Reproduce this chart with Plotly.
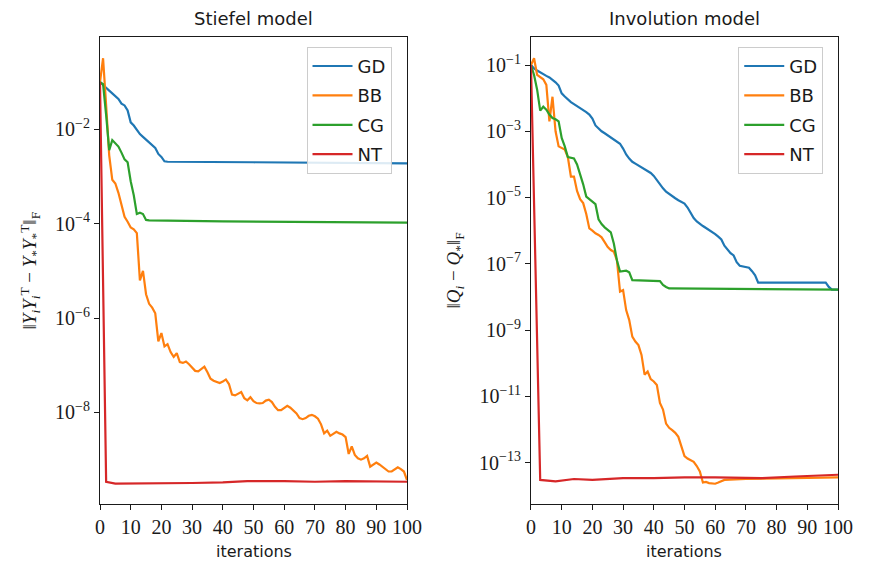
import plotly.graph_objects as go

# ---------------- data ----------------
# Stiefel model
st_gd_it = list(range(0, 22)) + [22, 50, 100]
st_gd_val = [1.0e-1, 8.9e-2, 7.6e-2, 6.6e-2, 5.8e-2, 5.0e-2, 4.4e-2, 3.5e-2, 3.2e-2, 2.5e-2,
             1.4e-2, 1.2e-2, 9.8e-3, 7.9e-3, 6.9e-3, 6.0e-3, 5.2e-3, 4.7e-3, 4.0e-3, 3.0e-3,
             2.6e-3, 2.1e-3, 2.05e-3, 2.0e-3, 1.9e-3]

st_bb_it = list(range(0, 101))
st_bb_val = [1.0e-1, 3.2e-1, 3.2e-2, 2.8e-3, 8.5e-4, 7.1e-4, 4.5e-4, 2.4e-4, 1.4e-4, 1.1e-4,
             8.3e-5, 7.6e-5, 6.3e-5, 6.3e-6, 1.0e-5, 3.2e-6, 2.0e-6, 1.66e-6, 1.26e-6, 3.2e-7,
             4.8e-7, 2.5e-7, 2.8e-7, 1.9e-7, 1.5e-7, 1.8e-7, 1.17e-7, 1.12e-7, 1.2e-7, 1.05e-7,
             8.9e-8, 7.6e-8, 7.4e-8, 8.3e-8, 9.3e-8, 7.1e-8, 5.2e-8, 4.7e-8, 4.4e-8, 4.2e-8,
             4.5e-8, 5.0e-8, 4.0e-8, 2.4e-8, 2.3e-8, 2.5e-8, 2.7e-8, 2.0e-8, 1.8e-8, 2.1e-8,
             1.74e-8, 1.58e-8, 1.55e-8, 1.58e-8, 1.78e-8, 1.86e-8, 1.66e-8, 1.32e-8, 1.12e-8, 1.12e-8,
             1.26e-8, 1.38e-8, 1.26e-8, 1.1e-8, 9.5e-9, 7.6e-9, 7.2e-9, 7.6e-9, 8.5e-9, 8.9e-9,
             8.3e-9, 7.4e-9, 5.6e-9, 3.6e-9, 4.1e-9, 3.2e-9, 3.5e-9, 3.9e-9, 3.6e-9, 3.4e-9,
             3.0e-9, 1.32e-9, 1.9e-9, 1.26e-9, 1.07e-9, 1.0e-9, 1.07e-9, 1.2e-9, 7.1e-10, 7.9e-10,
             8.7e-10, 7.9e-10, 7.1e-10, 6.5e-10, 5.6e-10, 5.6e-10, 6.3e-10, 6.9e-10, 6.3e-10, 5.6e-10,
             3.7e-10]

st_cg_it = list(range(0, 17)) + [40, 70, 100]
st_cg_val = [1.0e-1, 9.0e-2, 2.0e-2, 3.6e-3, 5.9e-3, 5.0e-3, 4.3e-3, 3.2e-3, 2.3e-3, 2.0e-3,
             7.9e-4, 4.0e-4, 1.6e-4, 1.7e-4, 1.6e-4, 1.2e-4, 1.17e-4, 1.12e-4, 1.1e-4, 1.05e-4]

st_nt_it = [0, 1, 2, 5, 10, 20, 30, 40, 48, 60, 70, 80, 90, 100]
st_nt_val = [1.0e-1, 6.0e-6, 3.4e-10, 3.1e-10, 3.1e-10, 3.1e-10, 3.2e-10, 3.3e-10, 3.5e-10,
             3.5e-10, 3.4e-10, 3.5e-10, 3.4e-10, 3.4e-10]

# Involution model
inv_gd_it = list(range(0, 75)) + [96, 97, 98, 100]
inv_gd_val = [1.0e-1, 7.9e-2, 6.8e-2, 5.9e-2, 5.2e-2, 4.7e-2, 4.2e-2, 3.6e-2, 3.0e-2, 2.4e-2,
              1.4e-2, 1.12e-2, 8.9e-3, 7.6e-3, 6.6e-3, 5.8e-3, 5.0e-3, 4.4e-3, 3.8e-3, 3.2e-3,
              2.4e-3, 1.5e-3, 1.2e-3, 1.0e-3, 8.7e-4, 7.6e-4, 6.6e-4, 5.8e-4, 5.0e-4, 4.2e-4,
              3.0e-4, 2.0e-4, 1.5e-4, 1.2e-4, 1.05e-4, 9.3e-5, 8.3e-5, 7.2e-5, 6.3e-5, 5.5e-5,
              4.5e-5, 3.3e-5, 2.4e-5, 1.9e-5, 1.5e-5, 1.26e-5, 1.1e-5, 9.5e-6, 8.3e-6, 7.4e-6,
              6.6e-6, 5.0e-6, 3.5e-6, 2.4e-6, 1.9e-6, 1.58e-6, 1.38e-6, 1.2e-6, 1.05e-6, 9.1e-7,
              7.9e-7, 6.6e-7, 5.4e-7, 3.5e-7, 2.6e-7, 2.1e-7, 1.78e-7, 1.12e-7, 8.7e-8, 8.3e-8,
              8.1e-8, 7.6e-8, 6.0e-8, 4.5e-8, 2.7e-8, 2.7e-8, 2.0e-8, 1.66e-8, 1.66e-8]

inv_bb_it = list(range(0, 64)) + [70, 80, 90, 100]
inv_bb_val = [1.0e-1, 1.6e-1, 5.0e-2, 4.2e-2, 3.7e-2, 2.5e-2, 2.0e-3, 1.1e-2, 1.0e-3, 3.5e-4,
              3.2e-4, 2.8e-4, 1.66e-4, 4.3e-5, 4.3e-5, 1.58e-5, 8.9e-6, 6.8e-6, 3.2e-6, 1.17e-6,
              1.0e-6, 8.3e-7, 7.4e-7, 6.3e-7, 4.5e-7, 3.2e-7, 2.6e-7, 2.3e-7, 1.26e-7, 1.45e-8,
              1.6e-8, 4.0e-9, 2.0e-9, 6.3e-10, 4.5e-10, 3.5e-10, 1.78e-10, 4.5e-11, 5.6e-11, 3.3e-11,
              2.8e-11, 2.2e-11, 6.3e-12, 4.0e-12, 1.5e-12, 1.12e-12, 9.5e-13, 7.9e-13, 6.0e-13, 2.8e-13,
              1.58e-13, 1.32e-13, 1.2e-13, 1.05e-13, 7.9e-14, 5.4e-14, 2.5e-14, 2.6e-14, 2.4e-14, 2.3e-14,
              2.3e-14, 2.5e-14, 2.8e-14, 3.0e-14, 3.2e-14, 3.3e-14, 3.4e-14, 3.6e-14]

inv_cg_it = list(range(0, 34)) + [42, 43, 44, 45, 100]
inv_cg_val = [1.0e-1, 5.0e-2, 1.8e-2, 4.2e-3, 5.5e-3, 4.5e-3, 3.2e-3, 2.5e-3, 2.3e-3, 2.0e-3,
              6.3e-4, 3.5e-4, 1.66e-4, 1.58e-4, 1.51e-4, 1.0e-4, 5.4e-5, 2.5e-5, 1.07e-5, 8.9e-6,
              7.6e-6, 6.3e-6, 2.2e-6, 1.58e-6, 1.26e-6, 1.07e-6, 8.9e-7, 4.0e-7, 1.26e-7, 5.8e-8,
              6.0e-8, 6.2e-8, 5.5e-8, 3.2e-8, 3.0e-8, 2.3e-8, 2.0e-8, 1.8e-8, 1.66e-8]

inv_nt_it = [0, 1, 2, 3, 8, 14, 20, 30, 40, 50, 60, 75, 86, 100]
inv_nt_val = [1.0e-1, 6.3e-6, 4.0e-10, 3.0e-14, 2.7e-14, 3.2e-14, 3.0e-14, 3.4e-14, 3.4e-14,
              3.6e-14, 3.6e-14, 3.4e-14, 3.8e-14, 4.3e-14]

names = ["GD", "BB", "CG", "NT"]
colors = ["#1f77b4", "#ff7f0e", "#2ca02c", "#d62728"]

st_ticks = [1e-2, 1e-4, 1e-6, 1e-8]
st_ticktext = ["10<sup>−2</sup>", "10<sup>−4</sup>", "10<sup>−6</sup>", "10<sup>−8</sup>"]
inv_ticks = [1e-1, 1e-3, 1e-5, 1e-7, 1e-9, 1e-11, 1e-13]
inv_ticktext = ["10<sup>−1</sup>", "10<sup>−3</sup>", "10<sup>−5</sup>", "10<sup>−7</sup>",
                "10<sup>−9</sup>", "10<sup>−11</sup>", "10<sup>−13</sup>"]
x_ticks = list(range(0, 101, 10))

# ---------------- figure ----------------
SERIF = "Liberation Serif, DejaVu Serif, serif"
SANS = "DejaVu Sans, sans-serif"
INK = "#1a1a1a"

fig = go.Figure()
st_series = [(st_gd_it, st_gd_val), (st_bb_it, st_bb_val), (st_cg_it, st_cg_val), (st_nt_it, st_nt_val)]
inv_series = [(inv_gd_it, inv_gd_val), (inv_bb_it, inv_bb_val), (inv_cg_it, inv_cg_val), (inv_nt_it, inv_nt_val)]

for i, (xs, ys) in enumerate(st_series):
    fig.add_trace(go.Scatter(x=xs, y=ys, mode="lines", name=names[i],
                             line=dict(color=colors[i], width=2.2),
                             xaxis="x", yaxis="y", legend="legend",
                             legendgroup="s" + names[i]))
for i, (xs, ys) in enumerate(inv_series):
    fig.add_trace(go.Scatter(x=xs, y=ys, mode="lines", name=names[i],
                             line=dict(color=colors[i], width=2.2),
                             xaxis="x2", yaxis="y2", legend="legend2",
                             legendgroup="i" + names[i]))

axis_common = dict(showgrid=False, zeroline=False, showline=True, linecolor=INK,
                   linewidth=1.2, mirror=True, ticks="outside", ticklen=5, tickwidth=1.1,
                   tickcolor=INK, tickfont=dict(family=SERIF, size=20, color=INK))

legend_common = dict(bgcolor="rgba(255,255,255,0.85)", bordercolor="#cccccc", borderwidth=1,
                     font=dict(family=SANS, size=18, color=INK), xanchor="right",
                     yanchor="top", tracegroupgap=3, itemwidth=40)

fig.update_layout(
    width=869, height=561,
    margin=dict(l=100, r=31, t=37, b=57),
    plot_bgcolor="white", paper_bgcolor="white",
    xaxis=dict(domain=[0, 0.416], range=[0, 100], tickvals=x_ticks, anchor="y", **axis_common),
    yaxis=dict(type="log", range=[-9.94, -0.045], tickvals=st_ticks, ticktext=st_ticktext,
               anchor="x", **axis_common),
    xaxis2=dict(domain=[0.584, 1], range=[0, 100], tickvals=x_ticks, anchor="y2", **axis_common),
    yaxis2=dict(type="log", range=[-14.25, -0.155], tickvals=inv_ticks, ticktext=inv_ticktext,
                anchor="x2", **axis_common),
    legend=dict(x=0.395, y=0.979, **legend_common),
    legend2=dict(x=0.98, y=0.979, **legend_common),
    showlegend=True,
)

ann = []
ann.append(dict(text="Stiefel model", x=0.208, y=1, xref="paper", yref="paper", yshift=19,
                xanchor="center", yanchor="middle",
                showarrow=False, font=dict(family=SANS, size=18, color=INK)))
ann.append(dict(text="Involution model", x=0.792, y=1, xref="paper", yref="paper", yshift=19,
                xanchor="center", yanchor="middle",
                showarrow=False, font=dict(family=SANS, size=18, color=INK)))
ann.append(dict(text="iterations", x=0.208, y=0, xref="paper", yref="paper", yshift=-47,
                xanchor="center", yanchor="middle",
                showarrow=False, font=dict(family=SANS, size=16, color=INK)))
ann.append(dict(text="iterations", x=0.792, y=0, xref="paper", yref="paper", yshift=-47,
                xanchor="center", yanchor="middle",
                showarrow=False, font=dict(family=SANS, size=16, color=INK)))
ann.append(dict(text="‖<i>Y<sub>i</sub>Y</i><sub><i>i</i></sub><sup>T</sup> − <i>Y</i><sub>*</sub><i>Y</i><sub>*</sub><sup>T</sup>‖<sub>F</sub>",
                x=0, y=0.5, xref="paper", yref="paper", xshift=-70, textangle=-90,
                xanchor="center", yanchor="middle",
                showarrow=False, font=dict(family=SERIF, size=19, color=INK)))
ann.append(dict(text="‖<i>Q<sub>i</sub></i> − <i>Q</i><sub>*</sub>‖<sub>F</sub>",
                x=0.584, y=0.5, xref="paper", yref="paper", xshift=-76, textangle=-90,
                xanchor="center", yanchor="middle",
                showarrow=False, font=dict(family=SERIF, size=19, color=INK)))
fig.update_layout(annotations=ann)

fig.write_html("out.html", config={"displayModeBar": False},
               post_script="document.body.style.margin='0';")
